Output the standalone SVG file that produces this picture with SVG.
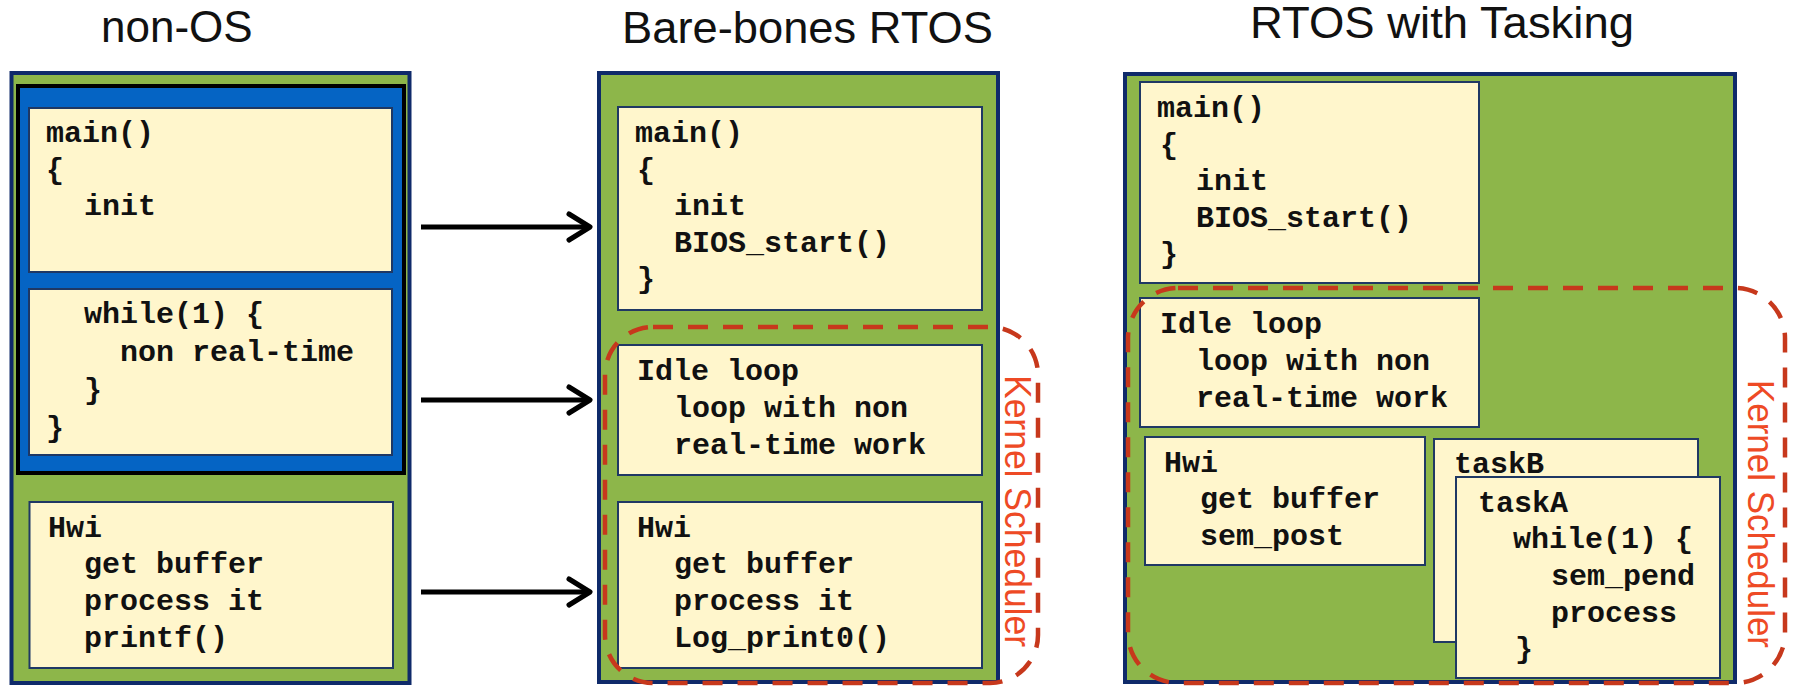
<svg xmlns="http://www.w3.org/2000/svg" width="1795" height="686" viewBox="0 0 1795 686">
<defs>
<style>
.bg{fill:#ffffff}
.panel{fill:#8db64a;stroke:#0f2a6a;stroke-width:4}
.blue{fill:#0564c4;stroke:#000000;stroke-width:4}
.box{fill:#fff6cc;stroke:#1f3864;stroke-width:2}
.code{font-family:"Liberation Mono","DejaVu Sans Mono",monospace;font-weight:bold;font-size:30px;fill:#111111}
.title{font-family:"Liberation Sans",Arial,sans-serif;font-size:44px;fill:#111111}
.dash{fill:none;stroke:#c7381c;stroke-width:4.5;stroke-dasharray:20 15}
.kern{font-family:"Liberation Sans",Arial,sans-serif;font-size:37px;fill:#ee4a25}
.arrow{stroke:#000000;stroke-width:5;fill:none}
</style>
<marker id="arr" markerUnits="userSpaceOnUse" markerWidth="40" markerHeight="40" viewBox="-30 -20 40 40" refX="0" refY="0" orient="auto" overflow="visible">
<path d="M -21 -13 L 0 0 L -21 13" fill="none" stroke="#000000" stroke-width="5" stroke-linecap="round" stroke-linejoin="round"/>
</marker>
</defs>
<rect class="bg" x="0" y="0" width="1795" height="686"/>

<g id="title-nonos"><text class="title" x="101" y="42">non-OS</text></g>
<g id="title-bare"><text class="title" x="622" y="43" textLength="371" lengthAdjust="spacingAndGlyphs">Bare-bones RTOS</text></g>
<g id="title-tasking"><text class="title" x="1250" y="38" textLength="384" lengthAdjust="spacingAndGlyphs">RTOS with Tasking</text></g>

<!-- Panel 1 -->
<g id="panel-nonos">
<rect class="panel" x="11.5" y="73" width="398" height="610"/>
<rect class="blue" x="18" y="86" width="386" height="387"/>
</g>
<g id="nonos-main">
<rect class="box" x="29" y="108" width="363" height="164"/>
<text class="code" x="46" y="142">main()</text>
<text class="code" x="46" y="179">{</text>
<text class="code" x="84" y="215">init</text>
</g>
<g id="nonos-while">
<rect class="box" x="29" y="289" width="363" height="166"/>
<text class="code" x="84" y="323">while(1) {</text>
<text class="code" x="120" y="361">non real-time</text>
<text class="code" x="84" y="399">}</text>
<text class="code" x="46" y="437">}</text>
</g>
<g id="nonos-hwi">
<rect class="box" x="29.5" y="502" width="363.5" height="166"/>
<text class="code" x="48" y="537">Hwi</text>
<text class="code" x="84" y="573">get buffer</text>
<text class="code" x="84" y="610">process it</text>
<text class="code" x="84" y="647">printf()</text>
</g>

<!-- Panel 2 -->
<g id="panel-bare">
<rect class="panel" x="599" y="73" width="399" height="609"/>
</g>
<g id="bare-main">
<rect class="box" x="618" y="107" width="364" height="203"/>
<text class="code" x="635" y="142">main()</text>
<text class="code" x="637" y="179">{</text>
<text class="code" x="674" y="215">init</text>
<text class="code" x="674" y="252">BIOS_start()</text>
<text class="code" x="637" y="288">}</text>
</g>
<g id="bare-idle">
<rect class="box" x="618" y="345" width="364" height="130"/>
<text class="code" x="637" y="380">Idle loop</text>
<text class="code" x="674" y="417">loop with non</text>
<text class="code" x="674" y="454">real-time work</text>
</g>
<g id="bare-hwi">
<rect class="box" x="618" y="502" width="364" height="166"/>
<text class="code" x="637" y="537">Hwi</text>
<text class="code" x="674" y="573">get buffer</text>
<text class="code" x="674" y="610">process it</text>
<text class="code" x="674" y="647">Log_print0()</text>
</g>
<g id="bare-scheduler">
<rect class="dash" x="605" y="327" width="433" height="356" rx="48" ry="48"/>
<text class="kern" transform="translate(1005,375) rotate(90)" x="0" y="0" textLength="272" lengthAdjust="spacingAndGlyphs">Kernel Scheduler</text>
</g>

<!-- Panel 3 -->
<g id="panel-tasking">
<rect class="panel" x="1125" y="74" width="610" height="608"/>
</g>
<g id="task-main">
<rect class="box" x="1140" y="82" width="339" height="201"/>
<text class="code" x="1157" y="117">main()</text>
<text class="code" x="1160" y="154">{</text>
<text class="code" x="1196" y="190">init</text>
<text class="code" x="1196" y="227">BIOS_start()</text>
<text class="code" x="1160" y="263">}</text>
</g>
<g id="task-idle">
<rect class="box" x="1140" y="298" width="339" height="129"/>
<text class="code" x="1160" y="333">Idle loop</text>
<text class="code" x="1196" y="370">loop with non</text>
<text class="code" x="1196" y="407">real-time work</text>
</g>
<g id="task-hwi">
<rect class="box" x="1145" y="437" width="280" height="128"/>
<text class="code" x="1164" y="472">Hwi</text>
<text class="code" x="1200" y="508">get buffer</text>
<text class="code" x="1200" y="545">sem_post</text>
</g>
<g id="task-b">
<rect class="box" x="1434" y="439" width="264" height="203"/>
<text class="code" x="1454" y="473">taskB</text>
</g>
<g id="task-a">
<rect class="box" x="1456" y="477" width="264" height="201"/>
<text class="code" x="1478" y="512">taskA</text>
<text class="code" x="1513" y="548">while(1) {</text>
<text class="code" x="1551" y="585">sem_pend</text>
<text class="code" x="1551" y="622">process</text>
<text class="code" x="1515" y="658">}</text>
</g>
<g id="task-scheduler">
<rect class="dash" x="1128" y="288" width="657" height="395" rx="50" ry="50"/>
<text class="kern" transform="translate(1748,380) rotate(90)" x="0" y="0" textLength="268" lengthAdjust="spacingAndGlyphs">Kernel Scheduler</text>
</g>

<g id="connectors">
<line class="arrow" x1="421" y1="227" x2="590" y2="227" marker-end="url(#arr)"/>
<line class="arrow" x1="421" y1="400" x2="590" y2="400" marker-end="url(#arr)"/>
<line class="arrow" x1="421" y1="592" x2="590" y2="592" marker-end="url(#arr)"/>
</g>
</svg>
